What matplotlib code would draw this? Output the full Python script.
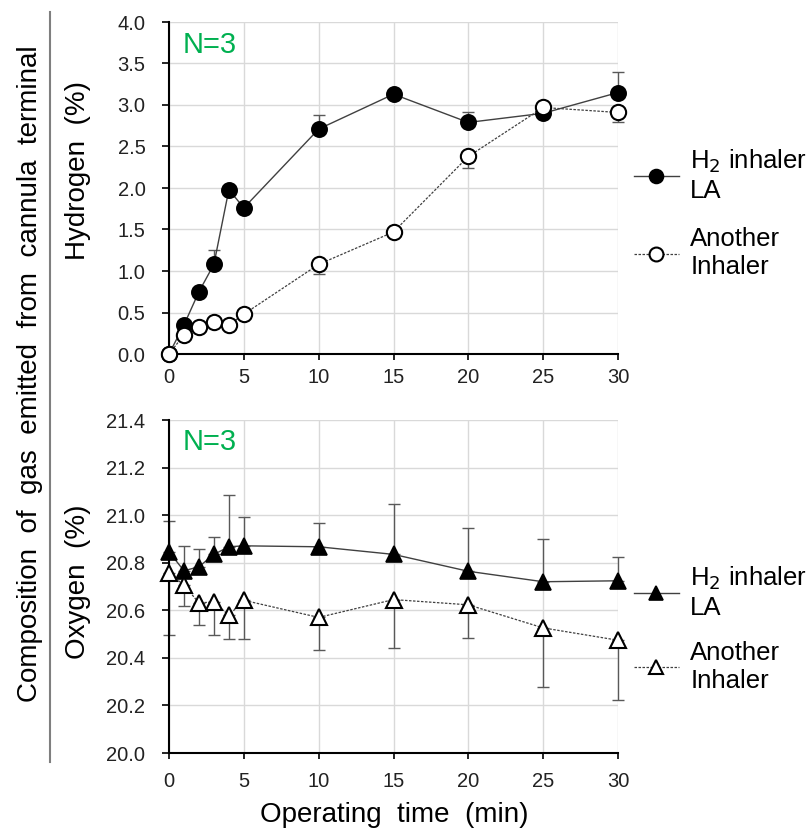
import matplotlib
matplotlib.use("Agg")
import matplotlib.pyplot as plt
from matplotlib.lines import Line2D

plt.rcParams['font.family'] = ['Liberation Sans', 'DejaVu Sans']

time_min = [0, 1, 2, 3, 4, 5, 10, 15, 20, 25, 30]

h2_la = [0.0, 0.35, 0.75, 1.08, 1.98, 1.76, 2.71, 3.13, 2.79, 2.90, 3.15]
h2_la_err = [0.0, 0.03, 0.05, 0.17, 0.05, 0.05, 0.17, 0.05, 0.13, 0.05, 0.25]
h2_other = [0.0, 0.23, 0.33, 0.38, 0.35, 0.48, 1.08, 1.47, 2.38, 2.97, 2.91]
h2_other_err = [0.0, 0.03, 0.03, 0.03, 0.03, 0.05, 0.12, 0.05, 0.14, 0.05, 0.11]

o2_la = [20.846, 20.766, 20.783, 20.835, 20.867, 20.871, 20.867, 20.835, 20.764, 20.720, 20.724]
o2_la_err = [0.13, 0.105, 0.073, 0.075, 0.218, 0.122, 0.10, 0.21, 0.184, 0.178, 0.10]
o2_other = [20.757, 20.706, 20.631, 20.635, 20.579, 20.642, 20.570, 20.645, 20.623, 20.526, 20.474]
o2_other_err = [0.26, 0.09, 0.094, 0.137, 0.10, 0.164, 0.135, 0.203, 0.139, 0.248, 0.252]

x_ticks = [0, 5, 10, 15, 20, 25, 30]
h2_ticks = [0.0, 0.5, 1.0, 1.5, 2.0, 2.5, 3.0, 3.5, 4.0]
o2_ticks = [20.0, 20.2, 20.4, 20.6, 20.8, 21.0, 21.2, 21.4]

label_la = 'H$_2$ inhaler\nLA'
label_other = 'Another\nInhaler'

W, H = 810, 830
fig = plt.figure(figsize=(W / 100, H / 100), dpi=100)

ax1 = fig.add_axes([169 / W, 1 - 354 / H, 449 / W, 332 / H])
ax2 = fig.add_axes([169 / W, 1 - 753 / H, 449 / W, 333 / H])

ERR_C = '#595959'
GREEN = '#00B050'


def style(ax, yticks, ylim, yfmt, xpad):
    ax.set_xlim(0, 30)
    ax.set_ylim(*ylim)
    ax.set_xticks(x_ticks)
    ax.set_yticks(yticks)
    ax.set_yticklabels([yfmt.format(v) for v in yticks])
    ax.grid(True, color='#d9d9d9', linewidth=1.0)
    ax.set_axisbelow(True)
    for s in ['top', 'right']:
        ax.spines[s].set_visible(False)
    for s in ['left', 'bottom']:
        ax.spines[s].set_linewidth(1.5)
        ax.spines[s].set_color('black')
    ax.tick_params(axis='y', direction='out', length=5, width=1.2, pad=12, labelsize=14.5, labelcolor='#222222')
    ax.tick_params(axis='x', direction='out', length=4, width=1.2, pad=xpad, labelsize=14.5, labelcolor='#222222')


style(ax1, h2_ticks, (0, 4.0), '{:.1f}', 6)
style(ax2, o2_ticks, (20.0, 21.4), '{:.1f}', 10)


def errbars(ax, x, y, lo, hi):
    cont = ax.errorbar(x, y, yerr=[lo, hi], fmt='none', ecolor=ERR_C, elinewidth=1,
                       capsize=4, capthick=1, zorder=2)
    for art in cont.lines[1] + cont.lines[2]:
        art.set_clip_on(False)


zeros = [0] * len(time_min)

# Hydrogen
errbars(ax1, time_min, h2_la, zeros, h2_la_err)
errbars(ax1, time_min, h2_other, h2_other_err, zeros)
l1, = ax1.plot(time_min, h2_la, '-', color='#404040', linewidth=1.0, marker='o', markersize=11,
               markerfacecolor='black', markeredgecolor='black', markeredgewidth=1.2,
               clip_on=False, zorder=4, label=label_la)
l2, = ax1.plot(time_min, h2_other, linestyle=(0, (2, 1.2)), color='#404040', linewidth=0.9, marker='o',
               markersize=11, markerfacecolor='white', markeredgecolor='black', markeredgewidth=1.5,
               clip_on=False, zorder=5, label=label_other)

# Oxygen
errbars(ax2, time_min, o2_la, zeros, o2_la_err)
errbars(ax2, time_min, o2_other, o2_other_err, zeros)
l3, = ax2.plot(time_min, o2_la, '-', color='#404040', linewidth=1.0, marker='^', markersize=12,
               markerfacecolor='black', markeredgecolor='black', markeredgewidth=1.2,
               clip_on=False, zorder=4, label=label_la)
l4, = ax2.plot(time_min, o2_other, linestyle=(0, (2, 1.2)), color='#404040', linewidth=0.9, marker='^',
               markersize=12, markerfacecolor='white', markeredgecolor='black', markeredgewidth=1.5,
               clip_on=False, zorder=5, label=label_other)

for ax, y in [(ax1, 0.93), (ax2, 0.934)]:
    ax.text(0.03, y, 'N=3', transform=ax.transAxes, color=GREEN, fontsize=21,
            ha='left', va='center')

leg_kw = dict(frameon=False, fontsize=18.5, handlelength=1.75, handletextpad=0.45,
              borderpad=0, borderaxespad=0, loc='upper left')
leg1 = ax1.legend(handles=[l1, l2], bbox_to_anchor=(1.035, 0.622), labelspacing=0.95, **leg_kw)
leg2 = ax2.legend(handles=[l3, l4], bbox_to_anchor=(1.035, 0.565), labelspacing=0.8, **leg_kw)
for leg in (leg1, leg2):
    for h in leg.legend_handles:
        h.set_markersize(10)

# Axis labels
fig.text(78 / W, 1 - 170 / H, 'Hydrogen  (%)', rotation=90, fontsize=20, ha='center', va='center')
fig.text(78 / W, 1 - 582 / H, 'Oxygen  (%)', rotation=90, fontsize=20, ha='center', va='center')
fig.text(30 / W, 1 - 374 / H, 'Composition  of  gas  emitted  from  cannula  terminal', rotation=90,
         fontsize=20, ha='center', va='center')
fig.text(394 / W, 1 - 815 / H, 'Operating  time  (min)', fontsize=20, ha='center', va='center')

fig.add_artist(Line2D([50 / W, 50 / W], [1 - 12 / H, 1 - 762 / H], transform=fig.transFigure,
                      color='#7f7f7f', linewidth=1.5))

fig.savefig('out.png', dpi=100)
